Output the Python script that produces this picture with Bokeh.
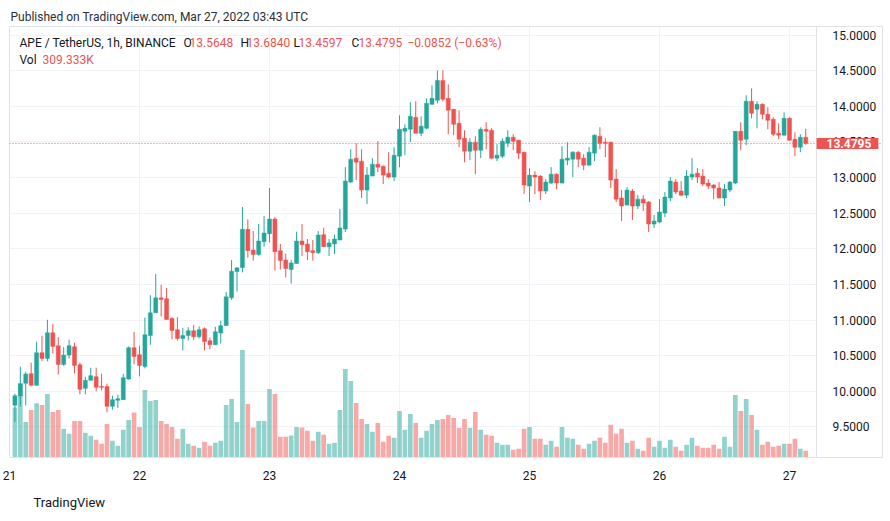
from bokeh.plotting import figure
from bokeh.models import Range1d, FixedTicker, Label, Span, ColumnDataSource, NumeralTickFormatter, Title
from bokeh.embed import file_html
from bokeh.resources import INLINE

# ---------------- data (APE/USDT 1h, Mar 21 01:00 -> Mar 27 03:00) ----------------
hours = list(range(1, 148))
opens = [9.803, 9.935, 10.111, 10.247, 10.083, 10.541, 10.461, 10.821, 10.639, 10.377,
         10.508, 10.625, 10.372, 10.041, 10.153, 10.204, 10.069, 10.065, 9.789, 9.873,
         9.882, 10.172, 10.611, 10.513, 10.349, 10.783, 11.101, 11.311, 11.297, 11.022,
         10.863, 10.741, 10.783, 10.849, 10.765, 10.877, 10.709, 10.653, 10.816, 10.923,
         11.311, 11.680, 11.736, 12.273, 11.983, 11.918, 12.100, 12.212, 12.417, 11.974,
         11.843, 11.708, 11.792, 12.109, 12.067, 11.974, 11.946, 12.198, 12.030, 12.067,
         12.123, 12.277, 12.936, 13.272, 13.230, 12.824, 13.020, 13.188, 13.160, 13.062,
         13.006, 13.300, 13.650, 13.678, 13.846, 13.622, 13.692, 14.028, 14.084, 14.364,
         14.112, 13.958, 13.762, 13.552, 13.370, 13.496, 13.384, 13.678, 13.664, 13.272,
         13.300, 13.482, 13.566, 13.524, 13.356, 12.880, 13.034, 13.020, 12.810, 12.922,
         13.048, 12.922, 13.244, 13.258, 13.356, 13.272, 13.174, 13.342, 13.580, 13.496,
         13.496, 12.978, 12.712, 12.613, 12.810, 12.600, 12.697, 12.655, 12.347, 12.375,
         12.501, 12.712, 12.936, 12.810, 12.753, 13.006, 13.062, 13.020, 12.922, 12.894,
         12.852, 12.712, 12.824, 12.922, 13.650, 13.538, 14.070, 13.958, 14.028, 13.888,
         13.818, 13.622, 13.594, 13.832, 13.538, 13.426, 13.5648]
highs = [9.966, 10.345, 10.274, 10.401, 10.695, 10.779, 11.003, 10.947, 10.760, 10.620,
         10.723, 10.681, 10.401, 10.204, 10.330, 10.330, 10.246, 10.106, 9.938, 9.952,
         10.246, 10.630, 10.835, 10.639, 11.036, 11.348, 11.647, 11.493, 11.451, 11.040,
         11.040, 10.891, 10.900, 10.933, 10.910, 10.895, 10.755, 10.905, 10.989, 11.395,
         11.843, 11.745, 12.585, 12.413, 12.249, 12.347, 12.459, 12.852, 12.445, 12.067,
         11.932, 11.843, 12.240, 12.347, 12.137, 12.123, 12.249, 12.296, 12.137, 12.198,
         12.557, 13.146, 13.398, 13.482, 13.398, 13.146, 13.272, 13.510, 13.170, 13.356,
         13.426, 13.874, 13.748, 14.056, 14.070, 13.860, 14.112, 14.294, 14.504, 14.504,
         14.308, 13.960, 13.944, 13.664, 13.552, 13.580, 13.706, 13.776, 13.692, 13.468,
         13.552, 13.664, 13.608, 13.530, 13.360, 13.132, 13.090, 13.034, 12.978, 13.146,
         13.060, 13.440, 13.496, 13.370, 13.370, 13.328, 13.426, 13.608, 13.706, 13.552,
         13.500, 13.118, 12.824, 12.866, 12.838, 12.753, 12.753, 12.669, 12.473, 12.697,
         12.796, 13.006, 12.978, 12.950, 13.104, 13.272, 13.132, 13.118, 12.978, 12.908,
         12.936, 12.908, 12.950, 13.650, 13.776, 14.154, 14.252, 14.070, 14.042, 13.986,
         13.846, 13.762, 13.916, 13.846, 13.636, 13.608, 13.6840]
lows = [9.565, 9.789, 9.803, 10.069, 10.080, 10.419, 10.419, 10.531, 10.237, 10.358,
        10.461, 10.251, 9.957, 9.957, 10.150, 9.999, 10.013, 9.705, 9.742, 9.766,
        9.880, 10.162, 10.377, 10.209, 10.321, 10.653, 11.100, 11.050, 11.000, 10.727,
        10.713, 10.573, 10.713, 10.723, 10.741, 10.573, 10.587, 10.650, 10.671, 10.920,
        11.283, 11.400, 11.670, 11.876, 11.834, 11.904, 12.030, 12.090, 11.694, 11.708,
        11.596, 11.512, 11.790, 11.899, 11.843, 11.834, 11.927, 12.025, 11.899, 11.927,
        12.120, 12.235, 12.922, 12.964, 12.712, 12.628, 13.020, 13.076, 12.908, 12.992,
        12.950, 13.146, 13.314, 13.496, 13.620, 13.580, 13.678, 14.020, 14.042, 14.070,
        13.608, 13.594, 13.426, 13.216, 13.244, 13.048, 13.272, 13.398, 13.258, 13.230,
        13.272, 13.426, 13.384, 13.258, 12.768, 12.656, 12.768, 12.683, 12.768, 12.908,
        12.838, 12.920, 13.174, 13.006, 13.146, 13.104, 13.170, 13.230, 13.398, 13.286,
        12.852, 12.655, 12.389, 12.610, 12.403, 12.557, 12.529, 12.235, 12.291, 12.361,
        12.445, 12.669, 12.768, 12.740, 12.712, 12.964, 12.922, 12.880, 12.838, 12.697,
        12.710, 12.600, 12.796, 12.908, 13.384, 13.454, 13.832, 13.692, 13.818, 13.678,
        13.580, 13.538, 13.590, 13.520, 13.300, 13.356, 13.4597]
closes = [9.938, 10.106, 10.242, 10.083, 10.541, 10.461, 10.821, 10.629, 10.377, 10.508,
          10.639, 10.363, 10.027, 10.153, 10.218, 10.055, 10.055, 9.789, 9.882, 9.896,
          10.190, 10.611, 10.489, 10.363, 10.793, 11.101, 11.311, 11.288, 11.008, 10.854,
          10.741, 10.783, 10.849, 10.765, 10.863, 10.699, 10.653, 10.835, 10.919, 11.325,
          11.684, 11.731, 12.273, 11.974, 11.918, 12.109, 12.221, 12.417, 11.960, 11.834,
          11.722, 11.801, 12.109, 12.058, 11.960, 11.946, 12.193, 12.030, 12.081, 12.137,
          12.291, 12.950, 13.258, 13.216, 12.824, 13.034, 13.188, 13.146, 13.034, 13.006,
          13.314, 13.678, 13.692, 13.860, 13.622, 13.720, 14.042, 14.112, 14.364, 14.098,
          13.944, 13.748, 13.538, 13.370, 13.496, 13.384, 13.678, 13.650, 13.272, 13.314,
          13.510, 13.566, 13.510, 13.342, 12.894, 13.034, 13.006, 12.810, 12.936, 13.048,
          12.922, 13.258, 13.272, 13.356, 13.258, 13.174, 13.356, 13.594, 13.482, 13.482,
          12.964, 12.697, 12.600, 12.824, 12.600, 12.697, 12.641, 12.347, 12.389, 12.515,
          12.726, 12.950, 12.796, 12.753, 13.020, 13.048, 13.006, 12.908, 12.880, 12.852,
          12.712, 12.838, 12.936, 13.650, 13.524, 14.070, 13.902, 14.028, 13.888, 13.804,
          13.608, 13.594, 13.832, 13.524, 13.426, 13.566, 13.4795]
volumes_k = [2309, 3430, 1648, 2202, 2507, 2433, 2941, 2110, 2202, 1325,
             1094, 1694, 1694, 1140, 1002, 817, 633, 1556, 771, 540,
             1279, 1741, 2078, 1417, 3126, 2618, 2664, 1694, 1556, 1417,
             863, 1325, 633, 540, 448, 725, 540, 679, 771, 2433,
             2710, 1648, 4973, 2479, 1385, 1694, 1694, 3172, 2941, 956,
             956, 1016, 1417, 1385, 1233, 771, 1187, 1048, 633, 679,
             2202, 4095, 3541, 2525, 1787, 1556, 1187, 1602, 725, 1002,
             910, 2156, 1279, 2018, 1602, 910, 1233, 1556, 1741, 1787,
             1971, 1833, 1371, 1787, 1371, 2110, 1279, 1048, 1002, 679,
             586, 586, 356, 402, 1325, 1417, 863, 863, 586, 771,
             494, 1417, 910, 863, 586, 402, 633, 771, 910, 679,
             1510, 1094, 1325, 679, 771, 402, 309, 910, 494, 771,
             448, 817, 494, 309, 586, 910, 540, 448, 448, 586,
             402, 956, 494, 2895, 2156, 2710, 1971, 1279, 586, 725,
             494, 540, 633, 633, 863, 402, 309.333]
day_ticks = [0, 24, 48, 72, 96, 120, 144]
day_labels = ["21", "22", "23", "24", "25", "26", "27"]
price_ticks = [9.5, 10.0, 10.5, 11.0, 11.5, 12.0, 12.5, 13.0, 13.5, 14.0, 14.5, 15.0]
last_price = 13.4795

UP = "#26a69a"
DOWN = "#ef5350"
TEXT = "#131722"
GRID = "#f0f3fa"
BORDER = "#e0e3eb"
FONT = "Roboto"

X_END = 161.17      # right edge of the frame (includes price-scale column)
AXIS_X = 149.0      # where the price scale starts

is_up = [c >= o for o, c in zip(opens, closes)]
src = ColumnDataSource(dict(
    x=hours, o=opens, h=highs, l=lows, c=closes, v=volumes_k,
    top=[max(o, c) for o, c in zip(opens, closes)],
    bot=[min(o, c) for o, c in zip(opens, closes)],
    color=[UP if u else DOWN for u in is_up],
))

p = figure(width=886, height=519, x_range=Range1d(0, X_END), y_range=Range1d(9.07, 15.1204),
           output_backend="svg", toolbar_location=None, y_axis_location="right",
           min_border_left=9, min_border_right=4, min_border_top=26, min_border_bottom=61,
           background_fill_color="white", border_fill_color="white")
p.extra_y_ranges = {"vol": Range1d(0, 19945)}
p.outline_line_color = BORDER

# price axis drawn at the left edge of the price-scale column
p.yaxis.fixed_location = AXIS_X
p.yaxis.ticker = FixedTicker(ticks=price_ticks)
p.yaxis.formatter = NumeralTickFormatter(format="0.0000")
p.yaxis.major_tick_line_color = None
p.yaxis.minor_tick_line_color = None
p.yaxis.axis_line_color = BORDER
p.yaxis.major_label_standoff = 10
p.yaxis.major_label_text_font = FONT
p.yaxis.major_label_text_font_size = "12px"
p.yaxis.major_label_text_color = TEXT

p.xaxis.ticker = FixedTicker(ticks=day_ticks)
p.xaxis.major_label_overrides = {t: l for t, l in zip(day_ticks, day_labels)}
p.xaxis.major_tick_line_color = None
p.xaxis.minor_tick_line_color = None
p.xaxis.axis_line_color = BORDER
p.xaxis.major_label_standoff = 7
p.xaxis.major_label_text_font = FONT
p.xaxis.major_label_text_font_size = "12px"
p.xaxis.major_label_text_color = TEXT

p.xgrid.grid_line_color = GRID
p.ygrid.grid_line_color = GRID
try:
    p.ygrid.cross_bounds = (0, AXIS_X)
    masked = False
except Exception:
    masked = True

if masked:
    p.quad(left=[AXIS_X], right=[X_END], bottom=[9.07], top=[15.1204],
           fill_color="white", line_color=None, level="underlay")

# last price line (under the marks)
p.add_layout(Span(location=last_price, dimension="width", line_color=DOWN,
                  line_dash="1 2", line_width=1, level="underlay"))

# volume
p.vbar(x="x", top="v", bottom=0, width=0.86, source=src, y_range_name="vol",
       fill_color="color", fill_alpha=0.5, line_color=None)

# candles
p.segment(x0="x", y0="l", x1="x", y1="h", source=src, line_color="color", line_width=1)
p.vbar(x="x", top="top", bottom="bot", width=0.74, source=src,
       fill_color="color", line_color="color", line_width=0.5)

p.add_layout(Label(x=AXIS_X, y=last_price, text=f"{last_price:.4f}", text_color="white",
                   text_font=FONT, text_font_size="12px", text_font_style="bold",
                   text_align="left", text_baseline="middle",
                   background_fill_color=DOWN,
                   padding=dict(left=10, right=7, top=1, bottom=1)))

# texts inside the frame (screen units relative to frame: left = x 9, bottom = y 458)
def lab(px, py, text, color=TEXT, size="12px", style="normal"):
    p.add_layout(Label(x=px - 9, y=458 - py, x_units="screen", y_units="screen", text=text,
                       text_color=color, text_font=FONT, text_font_size=size,
                       text_font_style=style, text_align="left", text_baseline="middle"))

lab(19, 43, "APE / TetherUS, 1h, BINANCE")
lab(183, 43, "O")
lab(189, 43, "13.5648", color=DOWN)
lab(240, 43, "H")
lab(246, 43, "13.6840", color=DOWN)
lab(293, 43, "L")
lab(298, 43, "13.4597", color=DOWN)
lab(351, 43, "C")
lab(358, 43, "13.4795", color=DOWN)
lab(407, 43, "\u22120.0852 (\u22120.63%)", color=DOWN)
lab(19, 60, "Vol")
lab(42, 60, "309.333K", color=DOWN)

p.add_layout(Title(text="Published on TradingView.com, Mar 27, 2022 03:43 UTC", align="left",
                   offset=1, standoff=5, text_font=FONT, text_font_size="12px",
                   text_font_style="normal", text_color="#2a2e39"), "above")
p.add_layout(Title(text="TradingView", align="left", offset=24, standoff=20,
                   text_font=FONT, text_font_size="13px", text_font_style="normal",
                   text_color=TEXT), "below")

open("out.html", "w").write(file_html(p, INLINE))
